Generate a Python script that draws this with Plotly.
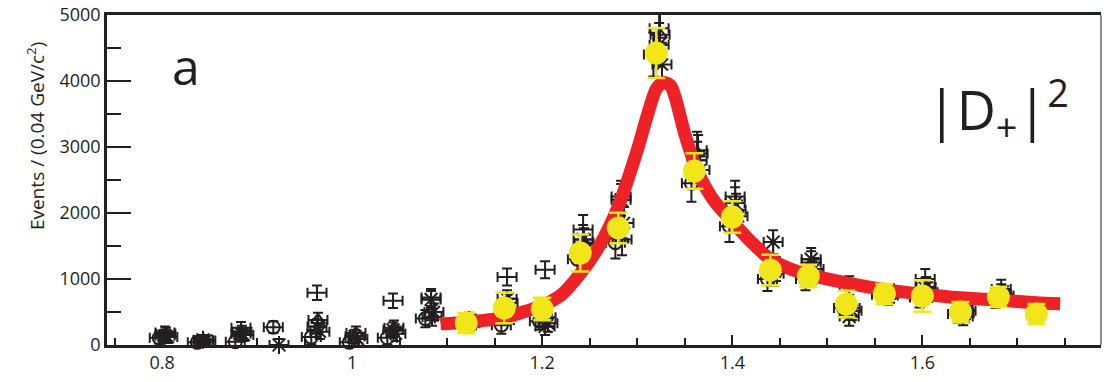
import plotly.graph_objects as go

# ---------------- data ----------------
# main measurement (yellow)
yel_x = [1.12, 1.16, 1.20, 1.24, 1.28, 1.32, 1.36, 1.40, 1.44, 1.48, 1.52, 1.56, 1.60, 1.64, 1.68, 1.72]
yel_y = [333, 560, 545, 1394, 1773, 4424, 2636, 1939, 1136, 1045, 621, 773, 742, 500, 727, 470]
yel_err = [150, 230, 170, 280, 230, 380, 270, 240, 230, 170, 200, 150, 240, 150, 150, 150]

# fitted curve (red)
fit_x = [1.093, 1.12, 1.16, 1.20, 1.22, 1.24, 1.26, 1.28, 1.30, 1.31, 1.32, 1.327, 1.335, 1.34, 1.35,
         1.363, 1.38, 1.40, 1.42, 1.44, 1.46, 1.48, 1.52, 1.56, 1.60, 1.64, 1.68, 1.72, 1.745]
fit_y = [320, 345, 420, 600, 760, 1080, 1500, 2100, 2950, 3450, 3880, 3980, 3930, 3750, 3200,
         2650, 2200, 1870, 1560, 1300, 1160, 1070, 940, 840, 770, 715, 680, 640, 625]

# overlaid comparison results (black), one value per bin
bins = [0.80, 0.84, 0.88, 0.92, 0.96, 1.00, 1.04, 1.08, 1.12, 1.16, 1.20, 1.24,
        1.28, 1.32, 1.36, 1.40, 1.44, 1.48, 1.52, 1.56, 1.60, 1.64, 1.68]
circ_y = [110, 40, 50, 270, 120, 40, 110, 400, 330, 300, 360, 1300,
          1550, 4400, 2450, 1800, 1000, 1000, 560, 760, 720, 470, 700]
star_y = [140, 80, 170, 0, 280, 130, 230, 690, 380, 700, 280, 1600,
          2200, 4550, 2800, 2150, 1560, 1300, 430, 780, 860, 430, 780]
xmk_y = [120, 70, 150, None, 200, 90, 170, 500, 350, 450, 330, 1450,
         1850, 4250, 2650, 1950, 1150, 1150, 520, 780, 800, 520, 750]
tri_y = [170, 70, 200, None, 380, 180, 260, 420, 330, 640, 420, 1550,
         1600, 4700, 2900, 2050, 1080, 1100, 560, 750, 880, 480, 720]
cross_y = [190, None, 260, None, 790, None, 670, 720, None, 1030, 1140, 1750,
           2250, 4800, 2950, 2250, None, 1250, 900, None, 1000, 560, 850]
blk_err = [90, 70, 90, 90, 110, 100, 110, 130, 110, 130, 130, 220,
           240, 330, 280, 240, 180, 170, 140, 140, 150, 130, 140]

x_ticks = [0.8, 1.0, 1.2, 1.4, 1.6]
x_ticklabels = ["0.8", "1", "1.2", "1.4", "1.6"]
y_ticks = [0, 1000, 2000, 3000, 4000, 5000]

# ---------------- styling ----------------
INK = "#231f20"
YEL = "#f0e619"
RED = "#ee2226"
FONT = "Open Sans"
BIN_HALF = 0.01

fig = go.Figure()


def black_series(xs, ys, offset, symbol, size):
    xx = [x + offset for x in xs]
    return go.Scatter(
        x=xx, y=ys, mode="markers",
        marker=dict(symbol=symbol, size=size, color=INK,
                    line=dict(color=INK, width=2)),
        error_y=dict(type="data", array=blk_err, color=INK, thickness=2, width=5),
        error_x=dict(type="constant", value=BIN_HALF, color=INK, thickness=2, width=5),
        cliponaxis=False, showlegend=False, hoverinfo="skip",
    )


fig.add_trace(black_series(bins, tri_y, 0.004, "triangle-up-open", 12))
fig.add_trace(black_series(bins, xmk_y, 0.006, "x-thin-open", 12))
fig.add_trace(black_series(bins, circ_y, -0.003, "circle-open", 13))
fig.add_trace(black_series(bins, star_y, 0.003, "asterisk-open", 15))
fig.add_trace(black_series(bins, cross_y, 0.003, "line-ns-open", 1))

fig.add_trace(go.Scatter(
    x=fit_x, y=fit_y, mode="lines",
    line=dict(color=RED, width=13, shape="spline", smoothing=0.8),
    showlegend=False, hoverinfo="skip",
))

fig.add_trace(go.Scatter(
    x=yel_x, y=yel_y, mode="markers",
    marker=dict(symbol="circle", size=23, color=YEL, line=dict(width=0)),
    error_y=dict(type="data", array=yel_err, color=YEL, thickness=2.5, width=9),
    showlegend=False, hoverinfo="skip",
))

# ---------------- layout ----------------
L, R, T, B = 107, 3, 15, 37
W, H = 1104, 382
pw, ph = W - L - R, H - T - B


def px(xp):
    return (xp - L) / pw


def py(yp):
    return (H - B - yp) / ph


fig.update_layout(
    width=W, height=H,
    margin=dict(l=L, r=R, t=T, b=B, pad=0),
    paper_bgcolor="white", plot_bgcolor="white",
    font=dict(family=FONT, color=INK, size=18),
    xaxis=dict(
        range=[0.742, 1.788], showgrid=False, zeroline=False,
        showline=True, linecolor=INK, linewidth=2.5, mirror=True,
        ticks="inside", ticklen=10, tickwidth=1.5, tickcolor=INK,
        tickvals=x_ticks, ticktext=x_ticklabels,
        tickfont=dict(size=18, color=INK, family=FONT),
        minor=dict(dtick=0.05, tick0=0, ticks="inside", ticklen=7, tickwidth=1.5, tickcolor=INK),
    ),
    yaxis=dict(
        range=[0, 5000], showgrid=False, zeroline=False,
        showline=True, linecolor=INK, linewidth=2.5,
        ticks="inside", ticklen=24, tickwidth=1.5, tickcolor=INK,
        tickvals=y_ticks,
        tickfont=dict(size=18, color=INK, family=FONT),
        minor=dict(dtick=500, ticks="inside", ticklen=14, tickwidth=1.5, tickcolor=INK),
    ),
)

# right frame edge (thin)
fig.add_shape(type="line", xref="paper", yref="paper", x0=1, x1=1, y0=0, y1=1,
              line=dict(color=INK, width=1))

# y-axis title (placed toward the top, as in the reference)
fig.add_annotation(text="Events / (0.04 GeV/c<sup>2</sup>)", xref="paper", yref="paper",
                   x=px(36), y=py(136), xanchor="center", yanchor="middle",
                   textangle=-90, showarrow=False,
                   font=dict(size=19, color=INK, family=FONT))

# panel label
fig.add_annotation(text="a", xref="paper", yref="paper", x=px(186), y=py(66),
                   xanchor="center", yanchor="middle", showarrow=False,
                   font=dict(size=50, color=INK, family=FONT))

# amplitude label |D+|^2
fig.add_annotation(text="|D<sub>+</sub>|<sup>2</sup>", xref="paper", yref="paper",
                   x=px(998), y=py(110), xanchor="center", yanchor="middle",
                   showarrow=False, font=dict(size=54, color=INK, family=FONT))

fig.write_html("out.html")
